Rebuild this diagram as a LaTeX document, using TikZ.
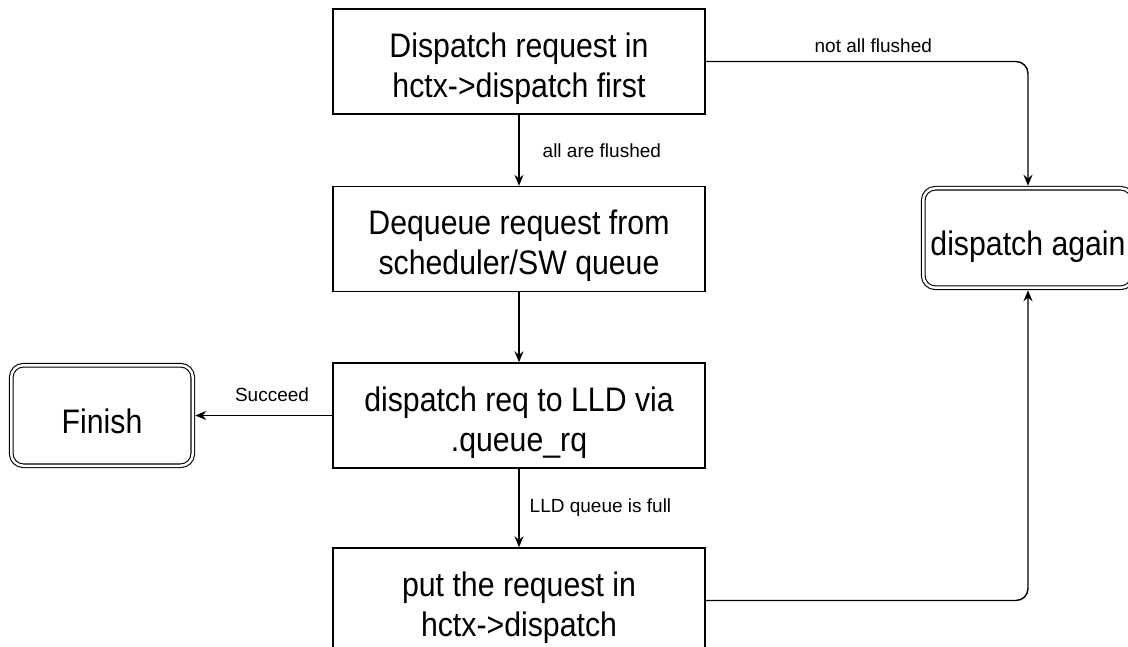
\documentclass[tikz,border=0pt]{standalone}
\usepackage{fontspec}
\setmainfont{Liberation Sans}
\newfontfamily\boxfont{Liberation Sans}[FakeStretch=0.89]
\usetikzlibrary{arrows.meta}

\tikzset{
    stepbox/.style={draw, line width=1.4pt, minimum width=372pt, minimum height=105pt,
        inner sep=0pt, align=center, font=\boxfont\fontsize{34}{40}\selectfont,
        text height=76pt, text depth=4pt},
    endbox/.style={draw, double, line width=1.1pt, double distance=2.5pt, rounded corners=12pt,
        minimum height=100.5pt, inner sep=0pt, outer sep=2.5pt, align=center,
        font=\boxfont\fontsize{34}{40}\selectfont, text height=40pt, text depth=5pt},
    flow/.style={-{Stealth[length=11pt,width=9pt]}, line width=1.4pt},
    lbl/.style={font=\fontsize{19}{21}\selectfont, inner sep=0pt}
}

\begin{document}
\begin{tikzpicture}[x=1pt,y=-1pt]
        \useasboundingbox (0,0) rectangle (1128,647);
        \node[stepbox] (first) at (519,61.5) {Dispatch request in\\hctx->dispatch first};
        \node[stepbox] (deq) at (519,239) {Dequeue request from\\scheduler/SW queue};
        \node[stepbox] (queuerq) at (519,415.5) {dispatch req to LLD via\\.queue\_rq};
        \node[stepbox] (putback) at (519,600.5) {put the request in\\hctx->dispatch};
        \node[endbox, minimum width=181.5pt] (finish) at (102,415.5) {Finish};
        \node[endbox, minimum width=209.5pt, minimum height=99.5pt] (again) at (1028,238) {dispatch again};

        \draw[flow] (first) -- node[lbl, anchor=west, xshift=23pt] {all are flushed} (deq);
        \draw[flow] (deq) -- (queuerq);
        \draw[flow] (queuerq) -- node[lbl, anchor=west, xshift=10pt] {LLD queue is full} (putback);
        \draw[flow] (queuerq) -- node[lbl, pos=0.44, above=13pt] {Succeed} (finish);
        % back to the retry box
        \draw[flow, rounded corners=12pt] (first.east) -| node[lbl, pos=0.26, above=8pt] {not all flushed} (again.north);
        \draw[flow, rounded corners=12pt] (putback.east) -| (again.south);
    \end{tikzpicture}
\end{document}
